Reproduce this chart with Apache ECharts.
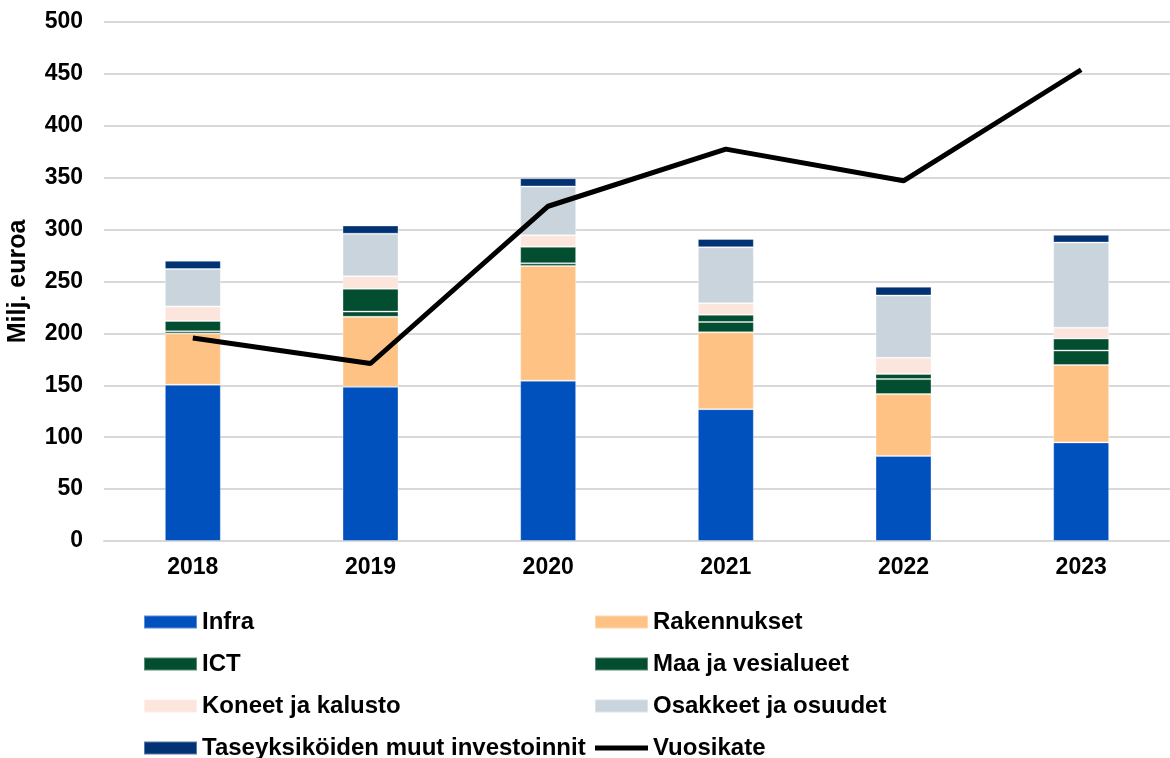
<!DOCTYPE html>
<html>
<head>
<meta charset="utf-8">
<script src="https://cdn.jsdelivr.net/npm/echarts@6/dist/echarts.min.js"></script>
<style>
  html, body { margin: 0; padding: 0; background: #fff; }
  #chart { width: 1170px; height: 758px; }
</style>
</head>
<body>
<div id="chart"></div>
<script>
const years = ["2018", "2019", "2020", "2021", "2022", "2023"];
const infra = [150.5, 148.5, 154.5, 127, 82, 95];
const rakennukset = [49.5, 67.5, 110.5, 74, 59.5, 74.5];
const ict = [2, 5, 2.5, 10, 14.5, 14];
const maaVesi = [10, 22, 16, 7, 5, 11.5];
const koneet = [14, 12, 11, 11, 15.5, 10.5];
const osakkeet = [36, 41, 47, 54, 60, 82];
const taseyksikot = [8, 8, 8, 8, 8.5, 7.5];
const vuosikate = [195.5, 171, 322.5, 377.5, 347, 454];

const font = "Liberation Sans, Arial, sans-serif";
// thin horizontal bar in a 53x13 box, used as the legend mark of the line
const lineIcon = "path://M0,0 L0.01,0 L0.01,0.01 Z M0,4 L53,4 L53,9 L0,9 Z M52.99,12.99 L53,12.99 L53,13 Z";

function barSeries(name, data, color) {
  return {
    name: name,
    type: "bar",
    stack: "inv",
    barWidth: 56,
    itemStyle: {
      color: color,
      borderColor: "rgba(255,255,255,0.35)",
      borderWidth: 1
    },
    emphasis: { disabled: true },
    data: data
  };
}

const legendText = { fontFamily: font, fontSize: 24, lineHeight: 24, fontWeight: "bold", color: "#000" };

const chart = echarts.init(document.getElementById("chart"));
chart.setOption({
  animation: false,
  textStyle: { fontFamily: font },
  grid: { left: 104, right: 0, top: 22, bottom: 217, outerBoundsMode: "none" },
  legend: [
    {
      orient: "vertical",
      left: 138,
      top: 605,
      height: 300,
      icon: "rect",
      itemWidth: 53,
      itemHeight: 13,
      itemGap: 18,
      textStyle: legendText,
      data: ["Infra", "ICT", "Koneet ja kalusto", "Taseyksiköiden muut investoinnit"]
    },
    {
      orient: "vertical",
      left: 589,
      top: 605,
      height: 300,
      icon: "rect",
      itemWidth: 53,
      itemHeight: 13,
      itemGap: 18,
      textStyle: legendText,
      data: ["Rakennukset", "Maa ja vesialueet", "Osakkeet ja osuudet", { name: "Vuosikate", icon: lineIcon }]
    }
  ],
  xAxis: {
    type: "category",
    data: years,
    axisTick: { show: false },
    axisLine: { lineStyle: { color: "#d9d9d9", width: 2 } },
    axisLabel: { fontSize: 23, fontWeight: "bold", color: "#000", margin: 15 }
  },
  yAxis: {
    type: "value",
    min: 0,
    max: 500,
    interval: 50,
    name: "Milj. euroa",
    nameLocation: "middle",
    nameGap: 73,
    nameTextStyle: { fontSize: 25, fontWeight: "bold", color: "#000" },
    axisLine: { show: false },
    axisTick: { show: false },
    axisLabel: { fontSize: 23, fontWeight: "bold", color: "#000", margin: 21 },
    splitLine: { lineStyle: { color: "#d9d9d9", width: 2 } }
  },
  series: [
    barSeries("Infra", infra, "#0050BE"),
    barSeries("Rakennukset", rakennukset, "#FFC285"),
    barSeries("ICT", ict, "#034D30"),
    barSeries("Maa ja vesialueet", maaVesi, "#034D30"),
    barSeries("Koneet ja kalusto", koneet, "#FCE5DC"),
    barSeries("Osakkeet ja osuudet", osakkeet, "#CAD4DD"),
    barSeries("Taseyksiköiden muut investoinnit", taseyksikot, "#003274"),
    {
      name: "Vuosikate",
      type: "line",
      symbol: "none",
      z: 5,
      lineStyle: { color: "#000", width: 5 },
      itemStyle: { color: "#000" },
      emphasis: { disabled: true },
      data: vuosikate
    }
  ]
});
</script>
</body>
</html>
